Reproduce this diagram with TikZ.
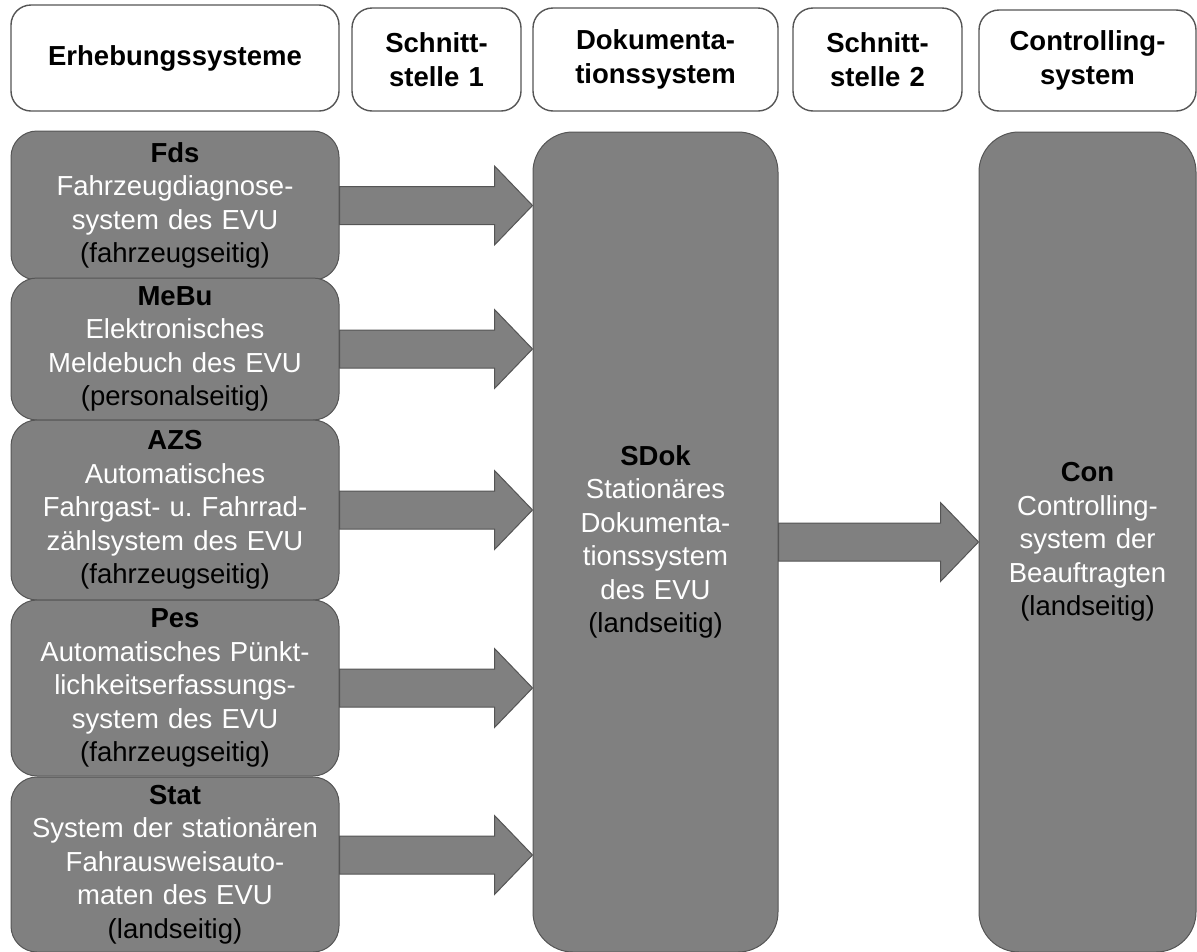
\documentclass[tikz,border=0pt]{standalone}
\usepackage{fontspec}
\setmainfont{Liberation Sans}
\usetikzlibrary{calc}

\definecolor{boxgray}{RGB}{128,128,128}
\definecolor{edgegray}{RGB}{85,85,85}
\newcommand{\boxfont}{\fontsize{27.5}{33.5}\selectfont}
\newcommand{\desc}[1]{\textcolor{white}{#1}}
\newcommand{\flowarrow}[2]{%
\path (#1) coordinate (fa-s) (#2 |- fa-s) coordinate (fa-t);
\draw [flow] ($(fa-s)+(0,-19)$) -- ($(fa-t)+(-38,-19)$) -- ($(fa-t)+(-38,-39.5)$) -- (fa-t)
  -- ($(fa-t)+(-38,39.5)$) -- ($(fa-t)+(-38,19)$) -- ($(fa-s)+(0,19)$) -- cycle;}

\begin{document}
\begin{tikzpicture}[x=1pt,y=-1pt,
  head/.style={draw=edgegray,line width=1.4pt,fill=white,rounded corners=20pt,align=center,font=\boxfont\bfseries},
  sys/.style={draw=edgegray,line width=1pt,fill=boxgray,rounded corners=26pt,align=center,text width=328pt,font=\boxfont},
  big/.style={sys,rounded corners=40pt},
  flow/.style={draw=edgegray,line width=1pt,fill=boxgray}]
\tikzstyle{every node}+=[inner sep=0pt]
\useasboundingbox (0,0) rectangle (1197,951);
\node [head,text width=328pt,minimum height=106pt] (herh) at (175,58) {Erhebungssysteme};
\node [head,text width=169pt,minimum height=103pt] (hsst1) at (436.5,59.5) {Schnitt-\\stelle 1};
\node [head,text width=245pt,minimum height=103pt] (hdok) at (655.5,59.5) {Dokumenta-\\tionssystem};
\node [head,text width=169pt,minimum height=103pt] (hsst2) at (877.5,59.5) {Schnitt-\\stelle 2};
\node [head,text width=217pt,minimum height=101pt] (hcon) at (1087.5,60.5) {Controlling-\\system};
\node [sys,minimum height=149pt] (fds) at (175,205.5) {\textbf{Fds}\\\desc{Fahrzeugdiagnose-}\\\desc{system des EVU}\\(fahrzeugseitig)};
\node [sys,minimum height=142pt] (mebu) at (175,349) {\textbf{MeBu}\\\desc{Elektronisches}\\\desc{Meldebuch des EVU}\\(personalseitig)};
\node [sys,minimum height=180pt] (azs) at (175,510) {\textbf{AZS}\\\desc{Automatisches}\\\desc{Fahrgast- u.\ Fahrrad-}\\\desc{zählsystem des EVU}\\(fahrzeugseitig)};
\node [sys,minimum height=176pt] (pes) at (175,688) {\textbf{Pes}\\\desc{Automatisches Pünkt-}\\\desc{lichkeitserfassungs-}\\\desc{system des EVU}\\(fahrzeugseitig)};
\node [sys,minimum height=175pt] (stat) at (175,864.5) {\textbf{Stat}\\\desc{System der stationären}\\\desc{Fahrausweisauto-}\\\desc{maten des EVU}\\(landseitig)};
\node [big,text width=245pt,minimum height=820pt] (sdok) at (655.5,542) {\textbf{SDok}\\\desc{Stationäres}\\\desc{Dokumenta-}\\\desc{tionssystem}\\\desc{des EVU}\\(landseitig)};
\node [big,text width=217pt,minimum height=820pt] (con) at (1087.5,542) {\textbf{Con}\\\desc{Controlling-}\\\desc{system der}\\\desc{Beauftragten}\\(landseitig)};
\flowarrow{fds.east}{sdok.west}
\flowarrow{mebu.east}{sdok.west}
\flowarrow{azs.east}{sdok.west}
\flowarrow{pes.east}{sdok.west}
\flowarrow{$(stat.east)+(0,-9.5)$}{sdok.west}
\flowarrow{sdok.east}{con.west}
\end{tikzpicture}
\end{document}
